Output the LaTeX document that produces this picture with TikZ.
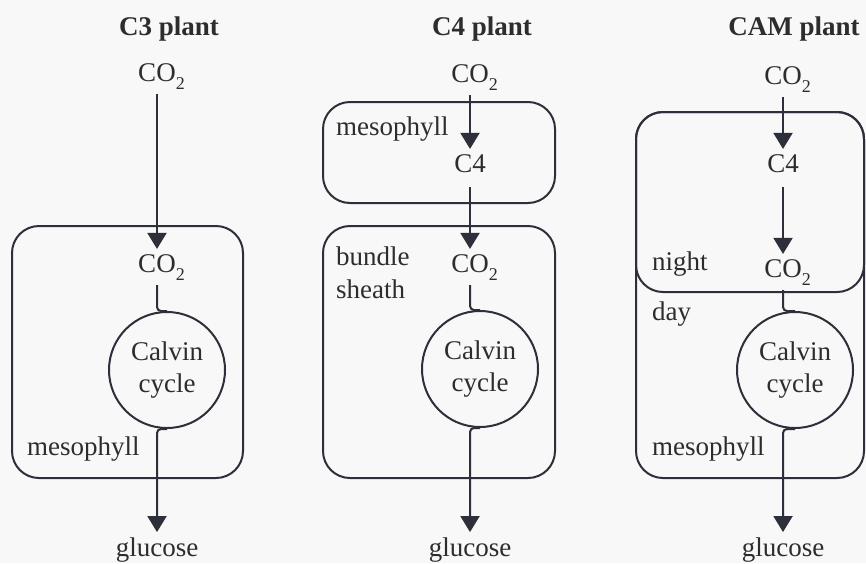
\documentclass[tikz,border=0pt]{standalone}
\usepackage{fontspec}
\setmainfont{Liberation Serif}
\usetikzlibrary{arrows.meta}
\usetikzlibrary{shapes}

\definecolor{ink}{RGB}{45,47,58}
\definecolor{txtgray}{RGB}{45,45,47}
\definecolor{paper}{RGB}{248,248,248}

% CO2 with the subscript hanging out to the right
\newcommand{\cotwo}{CO\rlap{\raisebox{-8pt}{\fontsize{18}{18}\selectfont 2}}}

\begin{document}
\begin{tikzpicture}[x=1pt,y=-1pt,
  every node/.style={font=\rmfamily\fontsize{27}{32}\selectfont, text=txtgray, inner sep=5pt, anchor=base},
  title/.style={font=\rmfamily\bfseries\fontsize{27}{32}\selectfont},
  tag/.style={anchor=base west, inner sep=0pt},
  cell/.style={draw=ink, line width=2pt, rounded corners=27pt},
  calvin/.style={draw=ink, line width=2pt, circle, minimum size=116pt, inner sep=0pt, align=center, anchor=center},
  link/.style={draw=ink, line width=2pt, rounded corners=4pt},
  flow/.style={link, ->},
  >={Triangle[width=19pt,length=16pt]}]
  \fill[paper] (0,0) rectangle (866,563);
  \useasboundingbox (0,0) rectangle (866,563);

  % C3 plant
  \draw[cell] (12,226) rectangle (243,478);
  \node[title] at (169,35) (c3title){C3 plant};
  \node at (157,81) (c3co2){\cotwo};
  \node at (157,272) (c3in){\cotwo};
  \node[calvin] at (167,370) (c3calvin){Calvin\\cycle};
  \node at (157,556) (c3glu){glucose};
  \node[tag] at (27,455) (c3meso){mesophyll};

  \draw[flow] (c3co2) -- (c3in);
  \draw[link] (c3in.south) |- (c3calvin.north);
  \draw[flow] (c3calvin.south) -| (c3glu.north);

  % C4 plant
  \draw[cell] (323,102) rectangle (555,203);
  \draw[cell] (323,226) rectangle (555,478);
  \node[title] at (482,35) (c4title){C4 plant};
  \node at (470,82) (c4co2){\cotwo};
  \node at (470,172) (c4mid){C4};
  \node at (470,272) (c4in){\cotwo};
  \node[calvin] at (480,369) (c4calvin){Calvin\\cycle};
  \node at (470,556) (c4glu){glucose};
  \node[tag] at (336,135) (c4meso){mesophyll};
  \node[tag] at (336,265) (c4bundle){bundle};
  \node[tag] at (336,298) (c4sheath){sheath};

  \draw[flow] (c4co2) -- (c4mid);
  \draw[flow,shorten <=10pt] (c4mid) -- (c4in);
  \draw[link] (c4in.south) |- (c4calvin.north);
  \draw[flow] (c4calvin.south) -| (c4glu.north);

  % CAM plant
  \draw[cell] (636,112) rectangle (864,478);
  \draw[cell] (636,112) rectangle (864,292);
  \node[title] at (794,35) (camtitle){CAM plant};
  \node at (783,84) (camco2){\cotwo};
  \node at (783,172) (cammid){C4};
  \node at (783,277) (camin){\cotwo};
  \node[calvin] at (795,370) (camcalvin){Calvin\\cycle};
  \node at (783,556) (camglu){glucose};
  \node[tag] at (652,270) (camnight){night};
  \node[tag] at (652,320) (camday){day};
  \node[tag] at (652,455) (cammeso){mesophyll};

  \draw[flow] (camco2) -- (cammid);
  \draw[flow,shorten <=10pt] (cammid) -- (camin);
  \draw[link] (camin.south) |- (camcalvin.north);
  \draw[flow] (camcalvin.south) -| (camglu.north);
\end{tikzpicture}
\end{document}
